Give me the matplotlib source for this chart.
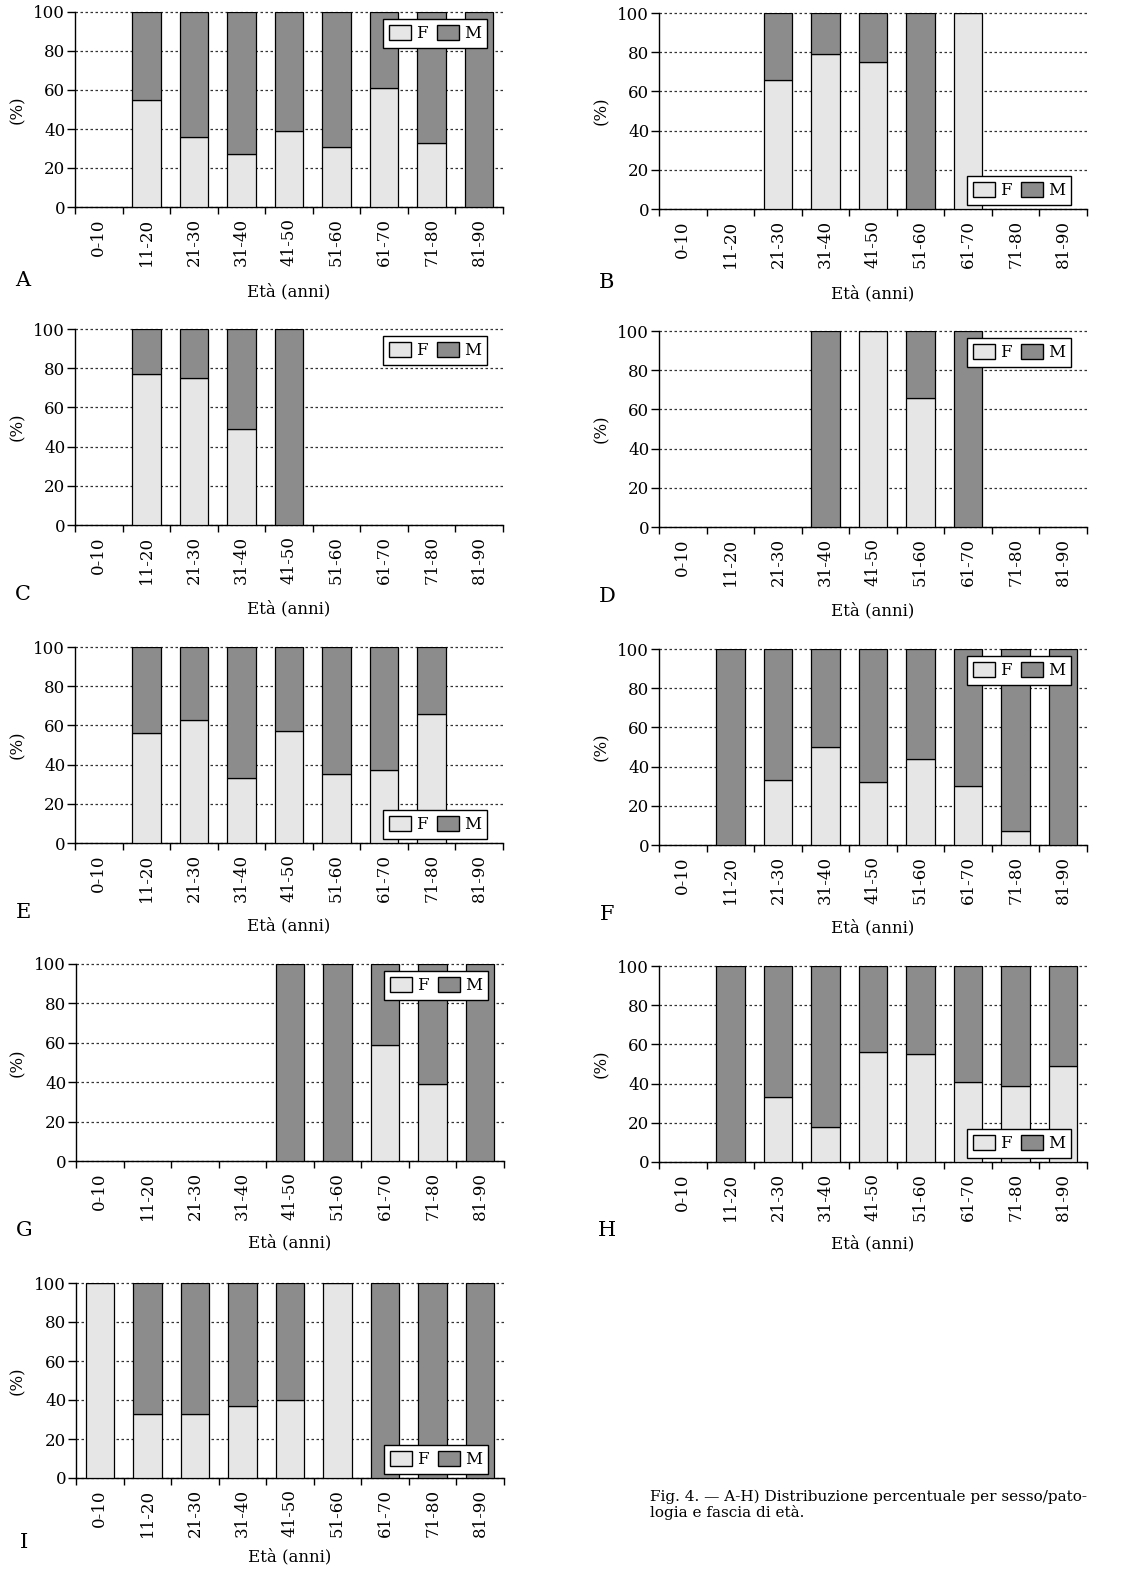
import matplotlib
matplotlib.use('Agg')
import matplotlib.pyplot as plt
import numpy as np
from matplotlib.patches import Patch

plt.rcParams['font.family'] = ['DejaVu Serif']

# age classes
age_classes = ['0-10', '11-20', '21-30', '31-40', '41-50', '51-60', '61-70', '71-80', '81-90']

# percentage F / M per age class (None = no cases)
A_f = [None, 55, 36, 27, 39, 31, 61, 33, 0]
A_m = [None, 45, 64, 73, 61, 69, 39, 67, 100]
B_f = [None, None, 66, 79, 75, 0, 100, None, None]
B_m = [None, None, 34, 21, 25, 100, 0, None, None]
C_f = [None, 77, 75, 49, 0, None, None, None, None]
C_m = [None, 23, 25, 51, 100, None, None, None, None]
D_f = [None, None, None, 0, 100, 66, 0, None, None]
D_m = [None, None, None, 100, 0, 34, 100, None, None]
E_f = [None, 56, 63, 33, 57, 35, 37, 66, None]
E_m = [None, 44, 37, 67, 43, 65, 63, 34, None]
F_f = [None, 0, 33, 50, 32, 44, 30, 7, 0]
F_m = [None, 100, 67, 50, 68, 56, 70, 93, 100]
G_f = [None, None, None, None, 0, 0, 59, 39, 0]
G_m = [None, None, None, None, 100, 100, 41, 61, 100]
H_f = [None, 0, 33, 18, 56, 55, 41, 39, 49]
H_m = [None, 100, 67, 82, 44, 45, 59, 61, 51]
I_f = [100, 33, 33, 37, 40, 100, 0, 0, 0]
I_m = [0, 67, 67, 63, 60, 0, 100, 100, 100]

panels = [
    ('A', A_f, A_m, 'upper right'),
    ('B', B_f, B_m, 'lower right'),
    ('C', C_f, C_m, 'upper right'),
    ('D', D_f, D_m, 'upper right'),
    ('E', E_f, E_m, 'lower right'),
    ('F', F_f, F_m, 'upper right'),
    ('G', G_f, G_m, 'upper right'),
    ('H', H_f, H_m, 'lower right'),
    ('I', I_f, I_m, 'lower right'),
]

col_f = '#e6e6e6'
col_m = '#8c8c8c'

W, H = 1145, 1573
fig = plt.figure(figsize=(W / 100, H / 100), dpi=100)

# axes boxes in pixels: left, top, bottom, letter offset, xlabel offset
boxes = [
    (75, 12, 207, 73, 85), (659, 13, 209, 73, 85),
    (75, 329, 525, 70, 84), (659, 331, 527, 70, 84),
    (75, 647, 843, 70, 83), (659, 649, 845, 70, 83),
    (76, 964, 1161, 69, 82), (659, 966, 1162, 69, 82),
    (76, 1283, 1478, 64, 79),
]
ax_w = 428
fs = 12


def to_num(vals):
    return np.array([np.nan if v is None else v for v in vals], dtype=float)


def plot_panel(ax, f, m, letter, loc, box):
    x = np.arange(len(age_classes))
    fv = to_num(f)
    mv = to_num(m)
    ax.bar(x, fv, width=0.6, color=col_f, edgecolor='black', linewidth=0.9, zorder=3)
    ax.bar(x, mv, width=0.6, bottom=fv, color=col_m, edgecolor='black', linewidth=0.9, zorder=3)

    ax.set_xlim(-0.5, len(age_classes) - 0.5)
    ax.set_ylim(0, 100)
    ax.set_yticks([0, 20, 40, 60, 80, 100])
    ax.set_xticks(x)
    ax.set_xticklabels(age_classes, rotation=90, fontsize=fs)
    ax.tick_params(axis='x', length=0, pad=8)
    ax.set_xticks(np.arange(-0.5, len(age_classes)), minor=True)
    ax.tick_params(axis='x', which='minor', length=5, width=1, direction='out')
    ax.tick_params(axis='y', length=6, width=1, labelsize=fs, pad=1)

    for s in ['top', 'right']:
        ax.spines[s].set_visible(False)
    ax.spines['left'].set_linewidth(1)
    ax.spines['bottom'].set_linewidth(1)

    ax.yaxis.grid(True, color='#333333', linewidth=0.9, linestyle=(0, (2, 2)), zorder=0)
    ax.set_axisbelow(True)
    for gl in ax.get_ygridlines():
        gl.set_clip_on(False)

    handles = [Patch(facecolor=col_f, edgecolor='black', label='F'),
               Patch(facecolor=col_m, edgecolor='black', label='M')]
    left, top, bottom, dl, dx = box
    ax_h = bottom - top
    if loc == 'upper right':
        anchor = (1 - 16 / ax_w, 1 - 7 / ax_h)
    else:
        anchor = (1 - 16 / ax_w, 4 / ax_h)
    leg = ax.legend(handles=handles, loc=loc, bbox_to_anchor=anchor, ncol=2,
                    fontsize=fs, frameon=True, fancybox=False, edgecolor='black',
                    framealpha=1, handlelength=1.3, handleheight=1.0,
                    handletextpad=0.3, columnspacing=0.6, borderpad=0.35,
                    borderaxespad=0)
    leg.get_frame().set_linewidth(1)
    leg.set_zorder(5)

    fig.text((left - 58) / W, 1 - ((top + bottom) / 2) / H, '(%)', fontsize=fs,
             rotation=90, ha='center', va='center')
    fig.text((left - 52) / W, 1 - (bottom + dl) / H, letter, fontsize=15,
             ha='center', va='center')
    fig.text((left + ax_w / 2) / W, 1 - (bottom + dx) / H, 'Età (anni)', fontsize=fs,
             ha='center', va='center')


for (letter, f, m, loc), box in zip(panels, boxes):
    left, top, bottom = box[:3]
    ax = fig.add_axes([left / W, 1 - bottom / H, ax_w / W, (bottom - top) / H])
    plot_panel(ax, f, m, letter, loc, box)

fig.text(650 / W, 1 - 1497 / H, 'Fig. 4. — A-H) Distribuzione percentuale per sesso/pato-',
         fontsize=11, ha='left', va='center')
fig.text(650 / W, 1 - 1513 / H, 'logia e fascia di età.',
         fontsize=11, ha='left', va='center')

fig.savefig('out.png', dpi=100)
